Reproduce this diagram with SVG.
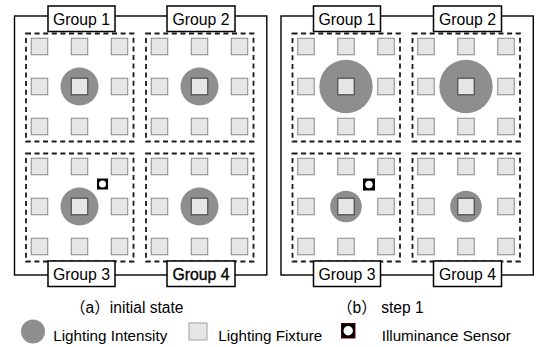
<svg xmlns="http://www.w3.org/2000/svg" width="547" height="347" viewBox="0 0 547 347">
<style>
.outer{fill:none;stroke:#000;stroke-width:1.4}
.dash{fill:none;stroke:#1a1a1a;stroke-width:1.8;stroke-dasharray:5 3.6}
.lbl{fill:#fff;stroke:#000;stroke-width:1.5}
.lt{font-family:"Liberation Sans",Arial,sans-serif;font-size:15.8px;fill:#000;text-anchor:middle}
.fx{fill:#e6e6e6;stroke:#888;stroke-width:1}
.fxc{fill:#e6e6e6;stroke:#4d4d4d;stroke-width:1.2}
.int{fill:#8e8e8e}
.cap{font-family:"Liberation Sans","Noto Sans CJK SC",sans-serif;font-size:15.6px;fill:#000}
.leg{font-family:"Liberation Sans",Arial,sans-serif;font-size:15.2px;fill:#000}
</style>
<defs>
<g id="grid">
<rect class="fx" x="-48.25" y="-48.25" width="16.5" height="16.5"/>
<rect class="fx" x="-8.25" y="-48.25" width="16.5" height="16.5"/>
<rect class="fx" x="31.75" y="-48.25" width="16.5" height="16.5"/>
<rect class="fx" x="-48.25" y="-8.25" width="16.5" height="16.5"/>
<rect class="fx" x="31.75" y="-8.25" width="16.5" height="16.5"/>
<rect class="fx" x="-48.25" y="31.75" width="16.5" height="16.5"/>
<rect class="fx" x="-8.25" y="31.75" width="16.5" height="16.5"/>
<rect class="fx" x="31.75" y="31.75" width="16.5" height="16.5"/>
<rect class="dash" x="-53.5" y="-53" width="107.5" height="108"/>
</g>
<rect id="cfx" class="fxc" x="-8.25" y="-8.25" width="16.5" height="16.5"/>
</defs>

<!-- Panel (a) -->
<g id="panel-a">
<rect class="outer" x="14.5" y="16" width="252.3" height="259"/>
<g id="a-group1" transform="translate(79.5,86.5)">
<use href="#grid"/><circle class="int" r="19"/><use href="#cfx"/>
</g>
<g id="a-group2" transform="translate(199.5,86.5)">
<use href="#grid"/><circle class="int" r="19"/><use href="#cfx"/>
</g>
<g id="a-group3" transform="translate(79.5,206.5)">
<use href="#grid"/><circle class="int" r="19"/><use href="#cfx"/>
</g>
<g id="a-group4" transform="translate(199.5,206.5)">
<use href="#grid"/><circle class="int" r="19"/><use href="#cfx"/>
</g>
<g id="a-sensor">
<rect x="97" y="178.5" width="11" height="11" fill="#000"/>
<circle cx="102.5" cy="184" r="3.5" fill="#fff"/>
</g>
<g id="a-label1"><rect class="lbl" x="48" y="6" width="67" height="25.5"/><text class="lt" x="81.5" y="25.3">Group 1</text></g>
<g id="a-label2"><rect class="lbl" x="167" y="6" width="68" height="25.5"/><text class="lt" x="201" y="25.3">Group 2</text></g>
<g id="a-label3"><rect class="lbl" x="48" y="261" width="67" height="25.5"/><text class="lt" x="81.5" y="280.3">Group 3</text></g>
<g id="a-label4"><rect class="lbl" x="167" y="261" width="68" height="25.5"/><text class="lt" x="201" y="280.3" stroke="#000" stroke-width="0.35">Group 4</text></g>
</g>

<!-- Panel (b) -->
<g id="panel-b" transform="translate(266.5,0)">
<rect class="outer" x="14.5" y="16" width="252.3" height="259"/>
<g id="b-group1" transform="translate(79.5,86.5)">
<use href="#grid"/><circle class="int" r="26.7"/><use href="#cfx"/>
</g>
<g id="b-group2" transform="translate(199.5,86.5)">
<use href="#grid"/><circle class="int" r="26.7"/><use href="#cfx"/>
</g>
<g id="b-group3" transform="translate(79.5,206.5)">
<use href="#grid"/><circle class="int" r="15.8"/><use href="#cfx"/>
</g>
<g id="b-group4" transform="translate(199.5,206.5)">
<use href="#grid"/><circle class="int" r="15.8"/><use href="#cfx"/>
</g>
<g id="b-sensor">
<rect x="96.5" y="178.5" width="12" height="12" fill="#000"/>
<circle cx="102.5" cy="184.5" r="3.7" fill="#fff"/>
</g>
<g id="b-label1"><rect class="lbl" x="47" y="6" width="67" height="25.5"/><text class="lt" x="80.5" y="25.3">Group 1</text></g>
<g id="b-label2"><rect class="lbl" x="167" y="6" width="68" height="25.5"/><text class="lt" x="201" y="25.3">Group 2</text></g>
<g id="b-label3"><rect class="lbl" x="47" y="261" width="67" height="25.5"/><text class="lt" x="80.5" y="280.3">Group 3</text></g>
<g id="b-label4"><rect class="lbl" x="167" y="261" width="68" height="25.5"/><text class="lt" x="201" y="280.3">Group 4</text></g>
</g>

<!-- Captions -->
<text class="cap" x="70" y="313">（a）initial state</text>
<text class="cap" x="337" y="313">（b） step 1</text>

<!-- Legend -->
<g id="legend">
<circle cx="33" cy="331.5" r="12" fill="#8e8e8e"/>
<text class="leg" x="53.3" y="341">Lighting Intensity</text>
<rect x="189" y="323" width="18" height="17" fill="#e6e6e6" stroke="#a0a0a0" stroke-width="1"/>
<text class="leg" x="218.3" y="341">Lighting Fixture</text>
<rect x="341.5" y="323.5" width="13.5" height="14.5" fill="#000" stroke="#500" stroke-width="1"/>
<circle cx="348.2" cy="330.7" r="4.7" fill="#fff"/>
<text class="leg" x="381.7" y="341">Illuminance Sensor</text>
</g>
</svg>
